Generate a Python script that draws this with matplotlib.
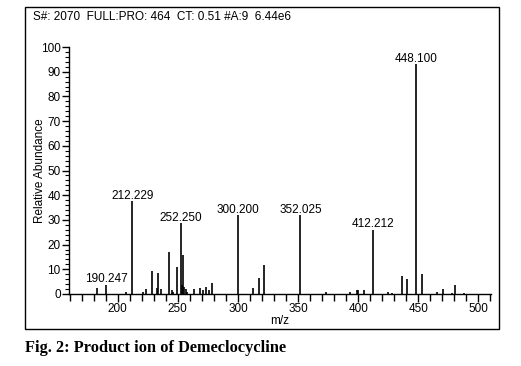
import matplotlib
matplotlib.use("Agg")
import matplotlib.pyplot as plt
from matplotlib.patches import Rectangle
from matplotlib.ticker import MultipleLocator

plt.rcParams['font.family'] = ['Liberation Sans', 'DejaVu Sans']

# Peak data (m/z, relative abundance)
mz = [182.7, 190.247, 206.7, 212.229, 221.4, 223.6, 228.9, 232.5, 233.8, 235.8,
      242.7, 245.5, 246.2, 249.6, 252.250, 253.5, 254.6, 255.5, 256.6, 257.4,
      263.8, 268.5, 271.3, 273.5, 276.0, 278.2, 300.200, 312.8, 317.6, 321.4,
      352.025, 373.5, 393.2, 398.7, 400.0, 404.8, 412.212, 424.5, 427.8, 436.7,
      440.6, 448.100, 453.0, 465.2, 470.7, 478.2, 480.5, 488.0]
abundance = [2.3, 3.8, 0.8, 37.6, 1.0, 2.0, 9.5, 2.5, 8.6, 2.0,
             16.9, 1.5, 1.0, 10.9, 28.7, 3.8, 15.6, 3.0, 2.0, 1.0,
             2.0, 2.5, 1.8, 2.8, 1.5, 4.5, 31.8, 2.6, 6.3, 11.8,
             31.8, 1.0, 1.0, 1.7, 1.7, 1.7, 26.0, 1.0, 0.5, 7.1,
             6.1, 93.0, 8.2, 1.0, 2.0, 0.5, 3.8, 0.5]
labelled = ["190.247", "212.229", "252.250", "300.200", "352.025", "412.212", "448.100"]

header = "S#: 2070  FULL:PRO: 464  CT: 0.51 #A:9  6.44e6"
caption = "Fig. 2: Product ion of Demeclocycline"

W, H = 521, 366
fig = plt.figure(figsize=(W / 100, H / 100), dpi=100)
fig.patch.set_facecolor('white')

# outer frame
fig.patches.append(Rectangle((25 / W, 1 - 329 / H), (499 - 25) / W, (329 - 7) / H,
                             transform=fig.transFigure, fill=False,
                             edgecolor='black', linewidth=1.0))

ax = fig.add_axes([69 / W, 1 - 294 / H, (491 - 69) / W, (294 - 47) / H])
ax.vlines(mz, 0, abundance, colors='black', linewidth=1.2)

fs = 8.5
for m, a in zip(mz, abundance):
    lab = f"{m:.3f}"
    if lab in labelled:
        ax.text(m, a + 1.0, lab, ha='center', va='baseline', fontsize=fs)

ax.set_xlim(159.5, 510.5)
ax.set_ylim(0, 100)
for s in ['top', 'right']:
    ax.spines[s].set_visible(False)
for s in ['left', 'bottom']:
    ax.spines[s].set_linewidth(1.0)

ax.xaxis.set_major_locator(MultipleLocator(50))
ax.xaxis.set_minor_locator(MultipleLocator(10))
ax.yaxis.set_major_locator(MultipleLocator(10))
ax.yaxis.set_minor_locator(MultipleLocator(2))
ax.tick_params(axis='x', which='major', length=6, width=1.0, labelsize=fs, pad=0.5)
ax.tick_params(axis='x', which='minor', length=5, width=1.0)
ax.tick_params(axis='y', which='major', length=5, width=1.0, labelsize=fs, pad=1)
ax.tick_params(axis='y', which='minor', length=3, width=0.8)

ax.set_xlabel("m/z", fontsize=fs)
ax.set_ylabel("Relative Abundance", fontsize=fs)
ax.xaxis.set_label_coords(0.5, -(321 - 294) / 247, transform=ax.transAxes)
ax.yaxis.set_label_coords(-(69 - 40) / 422, 0.5, transform=ax.transAxes)
ax.xaxis.label.set_va('center')
ax.yaxis.label.set_va('center')

fig.text(33 / W, 1 - 17 / H, header, ha='left', va='center', fontsize=fs)
fig.text(25 / W, 1 - 348 / H, caption, ha='left', va='center', fontsize=11.8,
         fontweight='bold', family=['Liberation Serif', 'DejaVu Serif'])

fig.savefig("out.png", dpi=100, facecolor='white')
